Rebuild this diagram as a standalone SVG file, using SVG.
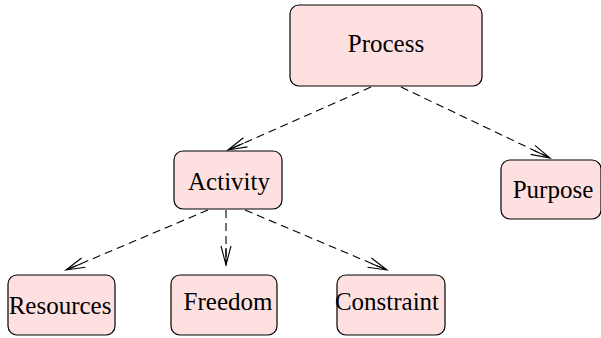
<svg xmlns="http://www.w3.org/2000/svg" width="601" height="338" viewBox="0 0 601 338">
<defs>
<style>
.n rect{fill:#ffe0e0;stroke:#000;stroke-width:1.2}
.n text{font-family:"Liberation Serif","Times New Roman",serif;font-size:25px;fill:#000;text-anchor:middle}
.c line{stroke:#000;stroke-width:1.1;stroke-dasharray:8,5;fill:none;marker-end:url(#a)}
</style>
<marker id="a" markerUnits="userSpaceOnUse" markerWidth="22" markerHeight="12" refX="20" refY="6" orient="auto" viewBox="0 0 22 12">
<path d="M1,1 L20,6 L1,11 M3,6 L20,6" fill="none" stroke="#000" stroke-width="1.1"/>
</marker>
</defs>
<rect width="601" height="338" fill="#fff"/>
<g id="connectors" class="c">
<line x1="371" y1="87" x2="228" y2="150"/>
<line x1="401" y1="87" x2="550" y2="158"/>
<line x1="208" y1="210" x2="66" y2="270"/>
<line x1="226" y1="210" x2="226" y2="265"/>
<line x1="245" y1="210" x2="387" y2="270"/>
</g>
<g id="process" class="n"><rect x="290" y="5" width="192" height="81" rx="9"/><text x="386" y="52">Process</text></g>
<g id="activity" class="n"><rect x="174" y="151" width="108" height="58" rx="9"/><text x="229" y="190">Activity</text></g>
<g id="purpose" class="n"><rect x="501" y="160" width="100" height="59" rx="9"/><text x="553" y="198">Purpose</text></g>
<g id="resources" class="n"><rect x="8" y="275" width="107" height="60" rx="9"/><text x="60" y="314">Resources</text></g>
<g id="freedom" class="n"><rect x="171" y="275" width="106" height="60" rx="9"/><text x="228" y="310">Freedom</text></g>
<g id="constraint" class="n"><rect x="337" y="275" width="108" height="60" rx="9"/><text x="387" y="310">Constraint</text></g>
</svg>
